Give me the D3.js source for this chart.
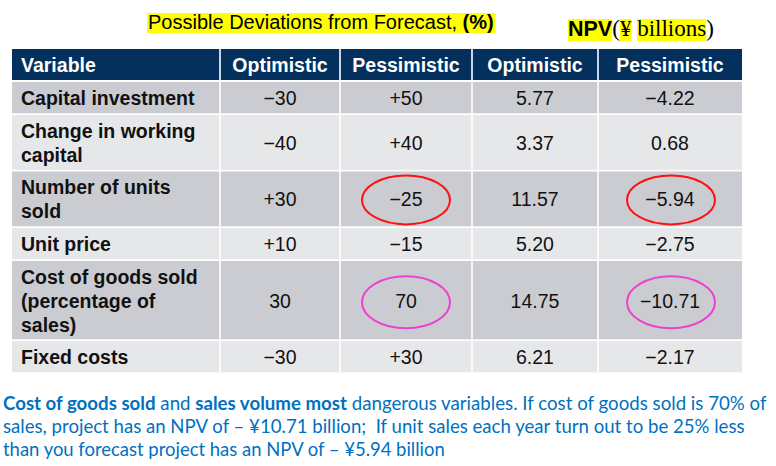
<!DOCTYPE html>
<html><head><meta charset="utf-8">
<script src="https://cdn.jsdelivr.net/npm/d3@7"></script>
<style>html,body{margin:0;padding:0;background:#fff;} svg{display:block}</style>
</head><body><svg id="c" width="776" height="466"></svg>
<script>
// ---- data ----
const headers = ["Variable", "Optimistic", "Pessimistic", "Optimistic", "Pessimistic"];
const variables = ["Capital investment", "Change in working\ncapital", "Number of units\nsold", "Unit price", "Cost of goods sold\n(percentage of\nsales)", "Fixed costs"];
const devOptimistic = [-30, -40, 30, 10, 30, -30];
const devPessimistic = [50, 40, -25, -15, 70, 30];
const devSigned = [true, true, true, true, false, true];
const npvOptimistic = [5.77, 3.37, 11.57, 5.20, 14.75, 6.21];
const npvPessimistic = [-4.22, 0.68, -5.94, -2.75, -10.71, -2.17];
const circled = [
  {row: 2, col: 2, color: "#FF1010"}, {row: 2, col: 4, color: "#FF1010"},
  {row: 4, col: 2, color: "#EE40D2"}, {row: 4, col: 4, color: "#EE40D2"}
];
const titleText = "Possible Deviations from Forecast, ";
const titleBold = "(%)";
const footLines = [
  [["Cost of goods sold", true], [" and ", false], ["sales volume most", true], [" dangerous variables. If cost of goods sold is 70% of", false]],
  [["sales, project has an NPV of \u2013 \u00a510.71 billion;  If unit sales each year turn out to be 25% less", false]],
  [["than you forecast project has an NPV of \u2013 \u00a55.94 billion", false]]
];

// ---- layout ----
const svg = d3.select("#c");
const SANS = "'Liberation Sans', Arial, sans-serif";
const colX = d3.scaleOrdinal().domain(d3.range(5)).range([12, 220, 340, 472, 598]);
const colW = d3.scaleOrdinal().domain(d3.range(5)).range([208, 120, 132, 126, 144]);
const tableLeft = 12, tableRight = 742;
const headerTop = 49, headerH = 31, gap = 1.7;
const nLines = variables.map(v => v.split("\n").length);
const rowH = nLines.map(n => 31.3 + 23.5 * (n - 1));
const rowTop = [];
let yy = headerTop + headerH + 2;
rowH.forEach(h => { rowTop.push(yy); yy += h + gap; });
const rowY = d3.scaleOrdinal().domain(d3.range(variables.length)).range(rowTop);
const rowHS = d3.scaleOrdinal().domain(d3.range(variables.length)).range(rowH);

const fmtSigned = d3.format("+");
const fmtPlain = d3.format("d");
const fmtNpv = d3.format(".2f");

const cells = variables.map((v, i) => [
  v,
  devSigned[i] ? fmtSigned(devOptimistic[i]) : fmtPlain(devOptimistic[i]),
  devSigned[i] ? fmtSigned(devPessimistic[i]) : fmtPlain(devPessimistic[i]),
  fmtNpv(npvOptimistic[i]),
  fmtNpv(npvPessimistic[i])
]);

// ---- header ----
svg.append("rect").attr("x", tableLeft).attr("y", headerTop)
  .attr("width", tableRight - tableLeft).attr("height", headerH).attr("fill", "#03305D");
svg.selectAll("text.hdr").data(headers).join("text").attr("class", "hdr")
  .attr("x", (d, i) => i === 0 ? colX(0) + 9 : colX(i) + colW(i) / 2)
  .attr("y", headerTop + headerH / 2 + 7)
  .attr("text-anchor", (d, i) => i === 0 ? "start" : "middle")
  .attr("font-family", SANS).attr("font-weight", "bold").attr("font-size", 19.5)
  .attr("fill", "#fff").text(d => d);

// ---- rows ----
svg.selectAll("rect.row").data(variables).join("rect").attr("class", "row")
  .attr("x", tableLeft).attr("y", (d, i) => rowY(i))
  .attr("width", tableRight - tableLeft).attr("height", (d, i) => rowHS(i))
  .attr("fill", (d, i) => i % 2 === 0 ? "#CBCCD1" : "#E6E7E9");

// vertical separators
svg.selectAll("line.sep").data(d3.range(1, 5)).join("line").attr("class", "sep")
  .attr("x1", d => colX(d)).attr("x2", d => colX(d))
  .attr("y1", headerTop).attr("y2", rowTop[rowTop.length - 1] + rowH[rowH.length - 1])
  .attr("stroke", "#fff").attr("stroke-width", 1.6);

const rowG = svg.selectAll("g.rowtxt").data(cells).join("g").attr("class", "rowtxt");
rowG.each(function (row, i) {
  const g = d3.select(this);
  const cy = rowY(i) + rowHS(i) / 2;
  row.forEach((val, c) => {
    const lines = val.split("\n");
    const n = lines.length;
    const t = g.append("text")
      .attr("font-family", SANS).attr("font-size", 19.5)
      .attr("font-weight", c === 0 ? "bold" : "normal")
      .attr("fill", "#111")
      .attr("text-anchor", c === 0 ? "start" : "middle");
    lines.forEach((ln, k) => {
      t.append("tspan")
        .attr("x", c === 0 ? colX(0) + 9 : colX(c) + colW(c) / 2)
        .attr("y", cy + 7.5 + (k - (n - 1) / 2) * 24)
        .text(ln);
    });
  });
});

// ---- circles ----
svg.selectAll("ellipse.mark").data(circled).join("ellipse").attr("class", "mark")
  .attr("cx", d => colX(d.col) + colW(d.col) / 2 + (d.col === 4 ? 1 : 0))
  .attr("cy", d => rowY(d.row) + rowHS(d.row) / 2 + (nLines[d.row] > 2 ? 2 : 1))
  .attr("rx", 44).attr("ry", d => nLines[d.row] > 2 ? 26 : 24.5)
  .attr("fill", "none").attr("stroke", d => d.color).attr("stroke-width", 2);

// ---- title ----
const titleG = svg.append("g");
const tHi = titleG.append("rect").attr("fill", "#FFFF00");
const tT = titleG.append("text").attr("x", 148).attr("y", 29)
  .attr("font-family", SANS).attr("font-size", 20).attr("fill", "#000");
tT.append("tspan").text(titleText);
tT.append("tspan").attr("font-weight", "bold").text(titleBold);
const tw = tT.node().getComputedTextLength();
tHi.attr("x", 147).attr("y", 13).attr("width", tw + 3).attr("height", 20);

// NPV label
const SERIF = "'Liberation Serif', 'Times New Roman', serif";
const npvParts = [
  {t: "NPV", font: SANS, w: "bold", s: 21.5, hi: true},
  {t: "(", font: SERIF, w: "normal", s: 23, hi: false},
  {t: "\u00a5", font: SERIF, w: "normal", s: 23, hi: true},
  {t: " ", font: SERIF, w: "normal", s: 23, hi: false},
  {t: "billions", font: SERIF, w: "normal", s: 23, hi: true},
  {t: ")", font: SERIF, w: "normal", s: 23, hi: false}
];
const npvG = svg.append("g");
let nx = 568;
npvParts.forEach(p => {
  const r = npvG.append("rect").attr("fill", "#FFFF00");
  const t = npvG.append("text").attr("x", nx).attr("y", 36)
    .attr("font-family", p.font).attr("font-weight", p.w).attr("font-size", p.s)
    .attr("fill", "#000").style("white-space", "pre").text(p.t);
  const w = t.node().getComputedTextLength();
  if (p.hi) r.attr("x", nx).attr("y", 19).attr("width", w).attr("height", 22);
  else r.remove();
  nx += w;
});

// ---- footnote ----
const footTargets = [764, 742, 442];
const footY = [409.5, 432.5, 455.5];
footLines.forEach((segs, i) => {
  const t = svg.append("text").attr("x", 0).attr("y", 0)
    .attr("font-family", "Lato, 'Open Sans', sans-serif").attr("font-size", 18.5)
    .attr("fill", "#0070C0").style("white-space", "pre");
  segs.forEach(([s, b]) => t.append("tspan").attr("font-weight", b ? "bold" : "normal").text(s));
  const w = t.node().getComputedTextLength();
  t.attr("transform", `translate(3,${footY[i]}) scale(${footTargets[i] / w},1)`);
});
</script>
</body></html>
